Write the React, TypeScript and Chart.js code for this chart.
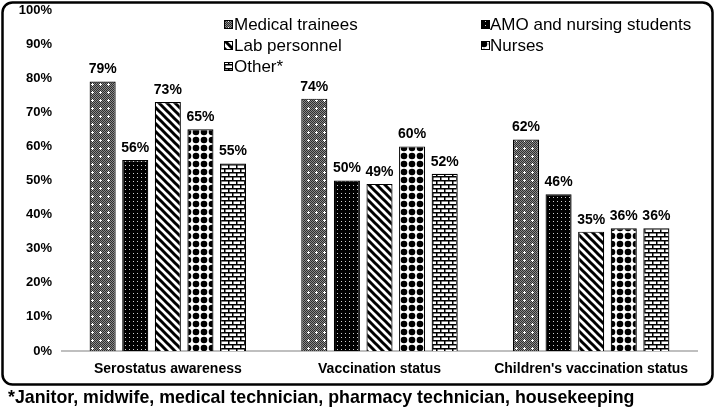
import React, { useEffect, useRef } from "react";
import { Chart, registerables } from "chart.js";
Chart.register(...registerables);

const categories = ["Serostatus awareness", "Vaccination status", "Children's vaccination status"];
const seriesNames = ["Medical trainees", "AMO and nursing students", "Lab personnel", "Nurses", "Other*"];
const medicalTrainees = [79, 74, 62];
const amoNursing = [56, 50, 46];
const labPersonnel = [73, 49, 35];
const nurses = [65, 60, 36];
const other = [55, 52, 36];
const footnote = "*Janitor, midwife, medical technician, pharmacy technician, housekeeping";

const FONT = "'Liberation Sans', Arial, Helvetica, sans-serif";

function tile(w: number, h: number, draw: (c: CanvasRenderingContext2D) => void): CanvasPattern {
  const cv = document.createElement("canvas");
  cv.width = w;
  cv.height = h;
  const c = cv.getContext("2d")!;
  draw(c);
  return c.createPattern(cv, "repeat")!;
}

function makePatterns(): CanvasPattern[] {
  const medical = tile(8, 8, (c) => {
    for (let y = 0; y < 8; y++)
      for (let x = 0; x < 8; x++) {
        c.fillStyle = (x + y) % 2 === 0 ? "#2e2e2e" : "#8a8a8a";
        c.fillRect(x, y, 1, 1);
      }
    c.fillStyle = "#ffffff";
    c.fillRect(3, 4, 3, 1);
    c.fillRect(4, 3, 1, 3);
  });
  const amo = tile(4, 4, (c) => {
    c.fillStyle = "#000";
    c.fillRect(0, 0, 4, 4);
    c.fillStyle = "#d0d0d0";
    c.fillRect(1, 1, 1, 1);
  });
  const lab = tile(8, 8, (c) => {
    c.fillStyle = "#fff";
    c.fillRect(0, 0, 8, 8);
    c.strokeStyle = "#000";
    c.lineWidth = 3;
    for (let k = -8; k <= 8; k += 8) {
      c.beginPath();
      c.moveTo(k - 2, -2);
      c.lineTo(k + 10, 10);
      c.stroke();
    }
  });
  const nurse = tile(8, 8, (c) => {
    c.fillStyle = "#fff";
    c.fillRect(0, 0, 8, 8);
    c.fillStyle = "#000";
    c.beginPath();
    c.arc(4, 4, 3.3, 0, Math.PI * 2);
    c.fill();
  });
  const brick = tile(8, 8, (c) => {
    c.fillStyle = "#fff";
    c.fillRect(0, 0, 8, 8);
    c.fillStyle = "#000";
    c.fillRect(0, 0, 8, 1.5);
    c.fillRect(0, 4, 8, 1.5);
    c.fillRect(0, 0, 1.5, 4);
    c.fillRect(4, 4, 1.5, 4);
  });
  return [medical, amo, lab, nurse, brick];
}

export default function App() {
  const ref = useRef<HTMLCanvasElement | null>(null);
  useEffect(() => {
    document.body.style.margin = "0";
    const canvas = ref.current!;
    const patterns = makePatterns();
    const values = [medicalTrainees, amoNursing, labPersonnel, nurses, other];

    const framePlugin = {
      id: "frame",
      beforeDraw(chart: any) {
        const c = chart.ctx as CanvasRenderingContext2D;
        c.save();
        c.fillStyle = "#fff";
        c.fillRect(0, 0, chart.width, chart.height);
        c.strokeStyle = "#000";
        c.lineWidth = 2.5;
        c.beginPath();
        (c as any).roundRect(2.5, 2.5, 710, 382, 10);
        c.stroke();
        c.restore();
      },
      afterDraw(chart: any) {
        const c = chart.ctx as CanvasRenderingContext2D;
        c.save();
        // footnote
        c.fillStyle = "#000";
        c.font = `bold 17.8px ${FONT}`;
        c.textBaseline = "middle";
        c.textAlign = "left";
        c.fillText(footnote, 8, 398);
        // legend
        const boxX = [224, 481];
        const textX = [234, 490];
        const rows = [24, 45, 66];
        c.font = `17px ${FONT}`;
        seriesNames.forEach((name, i) => {
          const col = i % 2;
          const y = rows[Math.floor(i / 2)];
          const x = boxX[col];
          c.fillStyle = patterns[i];
          c.fillRect(x, y - 4, 8, 8);
          c.strokeStyle = "#000";
          c.lineWidth = 1;
          c.strokeRect(x + 0.5, y - 3.5, 8, 8);
          c.fillStyle = "#000";
          c.fillText(name, textX[col], y + 1);
        });
        c.restore();
      },
      afterDatasetsDraw(chart: any) {
        const c = chart.ctx as CanvasRenderingContext2D;
        c.save();
        c.fillStyle = "#000";
        c.font = `bold 14px ${FONT}`;
        c.textAlign = "center";
        c.textBaseline = "bottom";
        chart.data.datasets.forEach((ds: any, di: number) => {
          const meta = chart.getDatasetMeta(di);
          meta.data.forEach((el: any, j: number) => {
            c.fillText(ds.data[j] + "%", el.x, el.y - 5);
          });
        });
        c.restore();
      },
    };

    const chart = new Chart(canvas, {
      type: "bar",
      data: {
        labels: categories,
        datasets: seriesNames.map((name, i) => ({
          label: name,
          data: values[i],
          backgroundColor: patterns[i] as any,
          borderColor: "#000",
          borderWidth: 1.2,
          categoryPercentage: 0.77,
          barPercentage: 0.8,
        })),
      },
      options: {
        animation: false,
        responsive: true,
        maintainAspectRatio: false,
        layout: { padding: { top: 10, right: 20, bottom: 24, left: 0 } },
        plugins: { legend: { display: false }, tooltip: { enabled: false } },
        scales: {
          x: {
            grid: { display: false, drawTicks: false },
            border: { display: true, color: "#bfbfbf", width: 2 },
            ticks: { color: "#000", font: { family: FONT, size: 14, weight: "bold" }, padding: 10 },
            afterFit: (s: any) => { s.height = 35; s.paddingLeft = 0; s.paddingRight = 0; },
          },
          y: {
            min: 0,
            max: 100,
            grid: { display: false, drawTicks: false },
            border: { display: false },
            ticks: {
              stepSize: 10,
              color: "#000",
              padding: 10,
              font: { family: FONT, size: 13, weight: "bold" },
              callback: (v: any) => v + "%",
            },
            afterFit: (s: any) => { s.width = 62; s.paddingTop = 0; s.paddingBottom = 0; },
          },
        },
      },
      plugins: [framePlugin],
    });
    return () => chart.destroy();
  }, []);
  return (
    <div style={{ width: 717, height: 410, position: "relative" }}>
      <canvas ref={ref} />
    </div>
  );
}
